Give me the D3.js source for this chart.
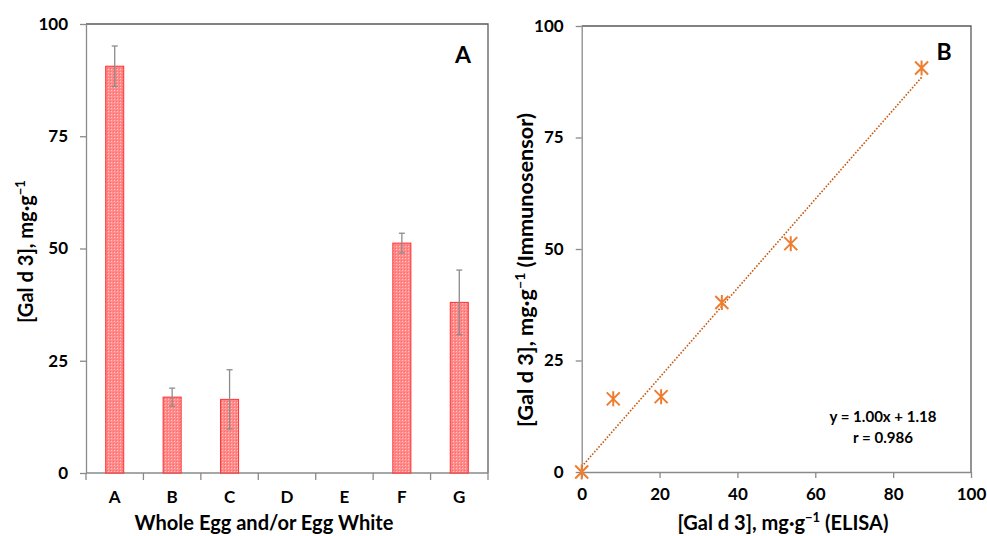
<!DOCTYPE html>
<html><head><meta charset="utf-8">
<script src="https://cdn.jsdelivr.net/npm/d3@7"></script>
<style>
body{margin:0;background:#fff}
svg text{font-family:Lato,"Open Sans",sans-serif;font-weight:bold;fill:#000}
</style>
</head><body>
<svg id="c" width="987" height="536"></svg>
<script>
// ---- data ----
const categories = ["A","B","C","D","E","F","G"];
const barValues  = [90.6, 16.9, 16.4, 0, 0, 51.2, 38.0];
const barErrors  = [4.5, 2.0, 6.6, 0, 0, 2.2, 7.2];
const yTicksA    = [0, 25, 50, 75, 100];
const elisaValues  = [0, 8.1, 20.4, 36.0, 53.7, 87.3];
const sensorValues = [0, 16.4, 16.9, 38.0, 51.2, 90.6];
const xTicksB    = [0, 20, 40, 60, 80, 100];
const yTicksB    = [0, 25, 50, 75, 100];
const fitSlope = 1.00, fitIntercept = 1.18;
const fitLines = ["y = 1.00x + 1.18", "r = 0.986"];

const svg = d3.select("#c");
const axisCol = "#8a8a8a", frameCol = "#5a5a5a";

const defs = svg.append("defs");
const pat = defs.append("pattern").attr("id","dots").attr("patternUnits","userSpaceOnUse")
  .attr("width",3).attr("height",3);
pat.append("rect").attr("width",3).attr("height",3).attr("fill","#ff8a8a");
pat.append("rect").attr("x",0).attr("y",0).attr("width",1).attr("height",1).attr("fill","#ffc4c4");
pat.append("rect").attr("x",2).attr("y",2).attr("width",1).attr("height",1).attr("fill","#ff6a6a");

function styleAxis(g){
  g.select(".domain").attr("stroke",axisCol).attr("stroke-width",1.3);
  g.selectAll(".tick line").attr("stroke",axisCol).attr("stroke-width",1.3);
  g.selectAll(".tick text").style("font-size","17px").attr("fill","#000");
}
function fitWidth(sel, target){
  const base = 17;
  sel.style("font-size", base+"px");
  const w = sel.node().getComputedTextLength();
  if (w > 0) sel.style("font-size", (base*target/w).toFixed(2)+"px");
}

// ---------- Panel A ----------
const A = {l:86, r:488, t:24, b:473};
const xA = d3.scaleBand().domain(categories).range([A.l, A.r]).paddingInner(0.686).paddingOuter(0.343);
const xAslot = d3.scaleBand().domain(categories).range([A.l, A.r]).padding(0);
const yA = d3.scaleLinear().domain([0,100]).range([A.b, A.t]);

svg.append("path").attr("d",`M${A.l},${A.t}H${A.r}V${A.b}`).attr("fill","none").attr("stroke",frameCol).attr("stroke-width",1.3);

const gyA = svg.append("g").attr("transform",`translate(${A.l},0)`)
  .call(d3.axisLeft(yA).tickValues(yTicksA).tickSize(6).tickPadding(12).tickSizeOuter(0));
styleAxis(gyA);

const gxA = svg.append("g").attr("transform",`translate(0,${A.b})`)
  .call(d3.axisBottom(xA).tickSize(0).tickPadding(18).tickSizeOuter(0));
styleAxis(gxA);
gxA.select(".domain").attr("d",`M${A.l},0H${A.r}`);
const bounds = categories.map(c=>xAslot(c)).concat([A.r]);
svg.append("g").selectAll("line").data(bounds).join("line")
  .attr("x1",d=>d).attr("x2",d=>d).attr("y1",A.b).attr("y2",A.b+7)
  .attr("stroke",axisCol).attr("stroke-width",1.3);

const barData = categories.map((c,i)=>({c, v:barValues[i], e:barErrors[i]}));
svg.append("g").selectAll("rect").data(barData.filter(d=>d.v>0)).join("rect")
  .attr("x",d=>xA(d.c)).attr("width",xA.bandwidth())
  .attr("y",d=>yA(d.v)).attr("height",d=>yA(0)-yA(d.v))
  .attr("fill","url(#dots)").attr("stroke","#ff3030").attr("stroke-width",1);

const eg = svg.append("g").attr("stroke","#8c8c8c").attr("stroke-width",1.3);
barData.filter(d=>d.e>0).forEach(d=>{
  const cx = xA(d.c)+xA.bandwidth()/2;
  eg.append("line").attr("x1",cx).attr("x2",cx).attr("y1",yA(d.v+d.e)).attr("y2",yA(d.v-d.e));
  eg.append("line").attr("x1",cx-3).attr("x2",cx+3).attr("y1",yA(d.v+d.e)).attr("y2",yA(d.v+d.e));
  eg.append("line").attr("x1",cx-3).attr("x2",cx+3).attr("y1",yA(d.v-d.e)).attr("y2",yA(d.v-d.e));
});

svg.append("text").attr("x",463).attr("y",63).attr("text-anchor","middle").style("font-size","23px").text("A");

function galTitle(sel, suffix){
  sel.append("tspan").text("[Gal d 3], mg·g");
  sel.append("tspan").attr("baseline-shift","super").style("font-size","0.65em").text("−1");
  if(suffix) sel.append("tspan").text(suffix);
}
const tyA = svg.append("text").attr("transform","translate(33,251.5) rotate(-90)")
  .attr("text-anchor","middle");
galTitle(tyA,"");
fitWidth(tyA,143);
const txA = svg.append("text").attr("x",264).attr("y",530).attr("text-anchor","middle")
  .text("Whole Egg and/or Egg White");
fitWidth(txA,259);

// ---------- Panel B ----------
const B = {l:581.7, r:971, t:26, b:472};
const xB = d3.scaleLinear().domain([0,100]).range([B.l, B.r]);
const yB = d3.scaleLinear().domain([0,100]).range([B.b, B.t]);

svg.append("path").attr("d",`M${B.l},${B.t}H${B.r}V${B.b}`).attr("fill","none").attr("stroke",frameCol).attr("stroke-width",1.3);

const gyB = svg.append("g").attr("transform",`translate(${B.l},0)`)
  .call(d3.axisLeft(yB).tickValues(yTicksB).tickSize(6).tickPadding(12).tickSizeOuter(0));
styleAxis(gyB);
const gxB = svg.append("g").attr("transform",`translate(0,${B.b})`)
  .call(d3.axisBottom(xB).tickValues(xTicksB).tickSize(6).tickPadding(10).tickSizeOuter(0));
styleAxis(gxB);

const xMin = d3.min(elisaValues), xMax = d3.max(elisaValues);
svg.append("line")
  .attr("x1",xB(xMin)).attr("y1",yB(fitSlope*xMin+fitIntercept))
  .attr("x2",xB(xMax)).attr("y2",yB(fitSlope*xMax+fitIntercept))
  .attr("stroke","#c55a11").attr("stroke-width",1.6).attr("stroke-dasharray","1.6,1.6");

const pts = elisaValues.map((x,i)=>[x, sensorValues[i]]);
const mk = svg.append("g").attr("stroke","#ed7d31").attr("stroke-width",2).attr("fill","none");
const s = 6.5;
pts.forEach(([x,y])=>{
  const cx = xB(x), cy = yB(y);
  mk.append("path").attr("d",`M${cx-s},${cy-s}L${cx+s},${cy+s}M${cx-s},${cy+s}L${cx+s},${cy-s}M${cx},${cy-s-1}L${cx},${cy+s+1}`);
});

svg.append("text").attr("x",944).attr("y",60).attr("text-anchor","middle").style("font-size","23px").text("B");

const fitW = [107, 60];
fitLines.forEach((t,i)=>{
  const tt = svg.append("text").attr("x",883).attr("y",422+i*20.5).attr("text-anchor","middle").text(t);
  fitWidth(tt, fitW[i]);
});

const tyB = svg.append("text").attr("transform","translate(533,270) rotate(-90)")
  .attr("text-anchor","middle");
galTitle(tyB," (Immunosensor)");
fitWidth(tyB,314);
const txB = svg.append("text").attr("x",783).attr("y",530).attr("text-anchor","middle");
galTitle(txB," (ELISA)");
fitWidth(txB,211);
</script>
</body></html>
